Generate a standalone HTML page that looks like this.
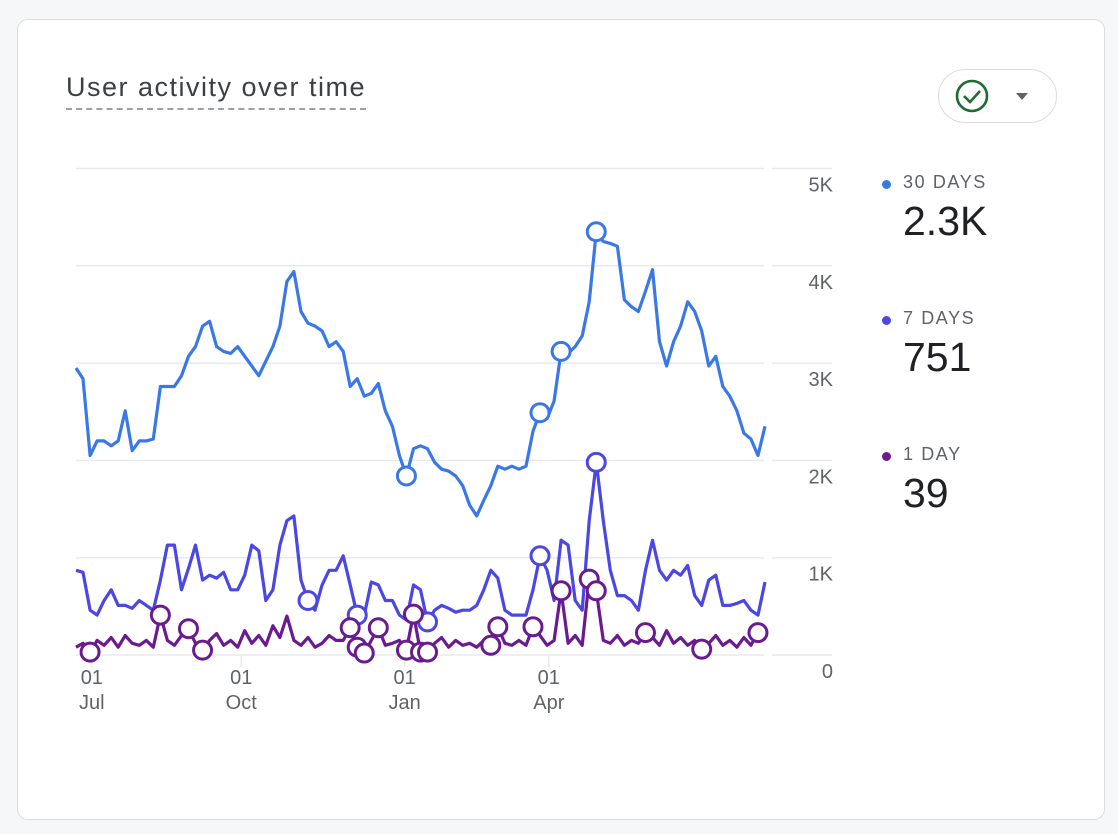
<!DOCTYPE html>
<html><head><meta charset="utf-8"><style>
html,body{margin:0;padding:0;width:1118px;height:834px;background:#f6f7f9;overflow:hidden;font-family:"Liberation Sans",sans-serif}
#card{position:absolute;left:17px;top:19px;width:1088px;height:801px;background:#fff;border:1.5px solid #dadce0;border-radius:11px;box-sizing:border-box}
#title{position:absolute;left:66px;top:72px;font-size:27px;color:#3c4043;letter-spacing:1.5px;border-bottom:2px dashed #9aa0a6;padding-bottom:5px}
#btn{position:absolute;left:938px;top:69px;width:119px;height:54px;border:1.5px solid #dadce0;border-radius:28px;box-sizing:border-box}
.lg{position:absolute;left:880px}
.lg .dot{position:absolute;left:2px;top:8px;width:9px;height:9px;border-radius:50%}
.lg .lab{position:absolute;left:23px;top:0;font-size:18px;color:#5f6368;letter-spacing:1.6px;white-space:nowrap}
.lg .val{position:absolute;left:23px;top:26px;font-size:41px;color:#202124;white-space:nowrap}
</style></head><body>
<div id="card"></div>
<div id="title">User activity over time</div>
<div id="btn">
<svg width="119" height="54" style="position:absolute;left:-1.5px;top:-1.5px">
<circle cx="34" cy="27" r="15" fill="none" stroke="#1e6b34" stroke-width="2.6"/>
<path d="M26 27 L32 33 L42 22" fill="none" stroke="#1e6b34" stroke-width="2.6"/>
<path d="M78 24 L90 24 L84 31 Z" fill="#5f6368"/>
</svg></div>
<div class="lg" style="top:172px"><div class="dot" style="background:#3b78e7"></div><div class="lab">30 DAYS</div><div class="val">2.3K</div></div>
<div class="lg" style="top:308px"><div class="dot" style="background:#4a47e3"></div><div class="lab">7 DAYS</div><div class="val">751</div></div>
<div class="lg" style="top:444px"><div class="dot" style="background:#6a1b8f"></div><div class="lab">1 DAY</div><div class="val">39</div></div>
<svg id="chart" width="1118" height="834" style="position:absolute;left:0;top:0"></svg>
<script>
const yTicks=[0,1,2,3,4,5];
const yTickLabels=["0","1K","2K","3K","4K","5K"];
const xTickDays=[9,94,187,269];
const xTickTop=["01","01","01","01"];
const xTickBottom=["Jul","Oct","Jan","Apr"];
const thirtyDays=[2.95,2.84,2.05,2.20,2.20,2.15,2.20,2.51,2.10,2.20,2.20,2.22,2.76,2.76,2.76,2.87,3.07,3.17,3.38,3.43,3.17,3.12,3.10,3.17,3.07,2.97,2.87,3.02,3.17,3.38,3.84,3.94,3.53,3.41,3.38,3.33,3.17,3.22,3.12,2.76,2.84,2.66,2.69,2.79,2.51,2.35,2.05,1.84,2.12,2.15,2.12,1.98,1.91,1.89,1.84,1.74,1.54,1.43,1.59,1.74,1.94,1.91,1.94,1.91,1.94,2.30,2.49,2.43,2.61,3.12,3.10,3.17,3.28,3.63,4.35,4.25,4.23,4.20,3.65,3.58,3.53,3.74,3.96,3.22,2.97,3.22,3.38,3.63,3.53,3.33,2.97,3.07,2.76,2.66,2.51,2.28,2.22,2.05,2.35];
const sevenDays=[0.87,0.85,0.46,0.41,0.56,0.67,0.51,0.51,0.48,0.56,0.51,0.46,0.77,1.13,1.13,0.67,0.89,1.13,0.77,0.82,0.79,0.85,0.67,0.67,0.82,1.13,1.07,0.56,0.67,1.13,1.38,1.43,0.77,0.56,0.46,0.72,0.87,0.87,1.02,0.72,0.41,0.41,0.75,0.72,0.56,0.56,0.41,0.36,0.72,0.67,0.34,0.46,0.51,0.48,0.44,0.46,0.46,0.51,0.67,0.87,0.79,0.46,0.41,0.41,0.41,0.67,1.02,0.87,0.56,1.18,1.13,0.56,0.46,1.38,1.98,1.38,0.87,0.61,0.61,0.56,0.46,0.87,1.18,0.87,0.77,0.87,0.82,0.92,0.61,0.51,0.77,0.82,0.51,0.51,0.53,0.56,0.46,0.41,0.75];
const oneDay=[0.08,0.12,0.03,0.15,0.10,0.18,0.08,0.20,0.12,0.10,0.15,0.08,0.41,0.15,0.10,0.20,0.27,0.12,0.05,0.15,0.22,0.10,0.15,0.08,0.25,0.12,0.20,0.10,0.30,0.18,0.40,0.15,0.10,0.18,0.08,0.12,0.20,0.15,0.15,0.28,0.08,0.02,0.15,0.28,0.10,0.12,0.15,0.05,0.42,0.03,0.03,0.12,0.18,0.08,0.15,0.10,0.12,0.08,0.15,0.10,0.29,0.12,0.10,0.15,0.10,0.29,0.20,0.10,0.15,0.66,0.12,0.20,0.10,0.78,0.66,0.15,0.12,0.20,0.10,0.15,0.12,0.23,0.18,0.10,0.25,0.12,0.18,0.10,0.15,0.06,0.12,0.20,0.10,0.15,0.08,0.18,0.10,0.23,0.15];
const thirtyMarks=[47,66,69,74];
const sevenMarks=[33,40,50,66,74];
const oneMarks=[2,12,16,18,39,40,41,43,47,48,49,50,59,60,65,69,73,74,81,89,97];

const NS="http://www.w3.org/2000/svg";
const svg=document.getElementById('chart');
const X0=76,X1=765,Y0=655,PXK=97.3,DAYSTEP=4;
const n=thirtyDays.length;
function xi(i){return X0+i*(X1-X0)/(n-1);}
function xd(day){return X0+day/DAYSTEP*(X1-X0)/(n-1);}
function y(v){return Y0-v*PXK;}
function mk(tag,attrs){const e=document.createElementNS(NS,tag);for(const k in attrs)e.setAttribute(k,attrs[k]);svg.appendChild(e);return e;}
yTicks.forEach((t,i)=>{
 const g1=mk('line',{x1:X0,x2:764,y1:y(t),y2:y(t),stroke:'#e8eaed','stroke-width':1.5});
 
 
 mk('line',{x1:772,x2:832,y1:y(t),y2:y(t),stroke:'#e8eaed','stroke-width':1.5});
 const tx=mk('text',{x:833,y:y(t)+23,'text-anchor':'end','font-size':20,fill:'#5f6368','font-family':'Liberation Sans, sans-serif'});
 tx.textContent=yTickLabels[i];
 
 
});
xTickDays.forEach((d,i)=>{
 const x=xd(d);
 mk('line',{x1:x,x2:x,y1:Y0,y2:Y0+12,stroke:'#e8eaed','stroke-width':1.5});
 const t1=mk('text',{x:x,y:Y0+29,'text-anchor':'middle','font-size':20,fill:'#5f6368','font-family':'Liberation Sans, sans-serif'});
 t1.textContent=xTickTop[i];
 
 
 const t2=mk('text',{x:x,y:Y0+54,'text-anchor':'middle','font-size':20,fill:'#5f6368','font-family':'Liberation Sans, sans-serif'});
 t2.textContent=xTickBottom[i];
 
 
});
function series(vals,marks,color,name){
 const p=mk('polyline',{points:vals.map((v,i)=>xi(i).toFixed(1)+','+y(v).toFixed(1)).join(' '),fill:'none',stroke:color,'stroke-width':3.2,'stroke-linejoin':'round'});
 
 
 marks.forEach(i=>{
  const c=mk('circle',{cx:xi(i),cy:y(vals[i]),r:9,fill:'#fff',stroke:color,'stroke-width':3});
  
  
 });
}
series(thirtyDays,thirtyMarks,'#3b78e7','thirty-days');
series(sevenDays,sevenMarks,'#4a47e3','seven-days');
series(oneDay,oneMarks,'#6a1b8f','one-day');
</script>
</body></html>
